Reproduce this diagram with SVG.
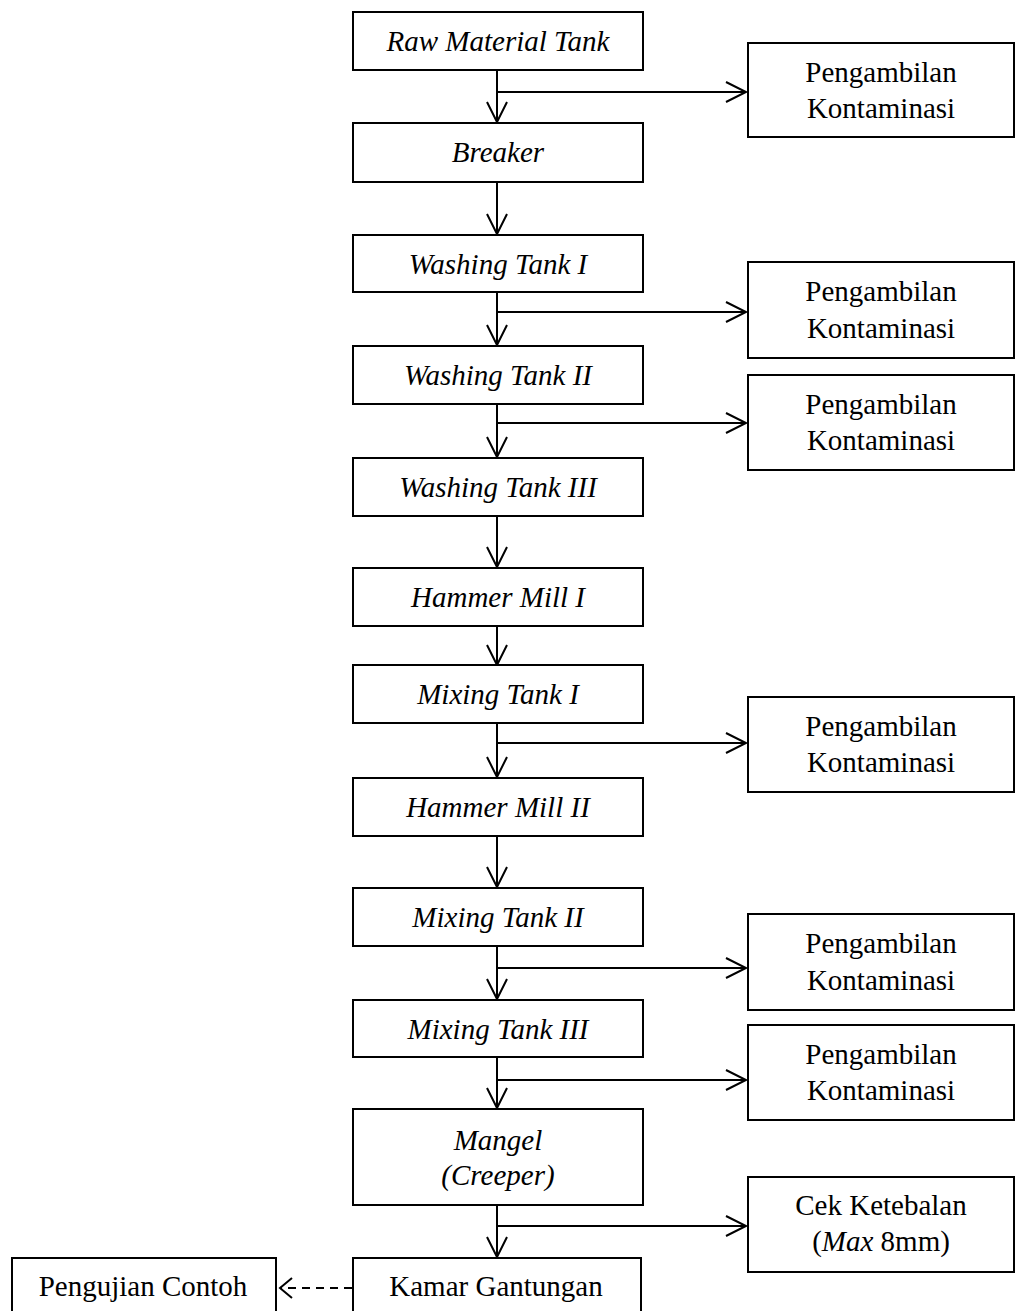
<svg xmlns="http://www.w3.org/2000/svg" width="1016" height="1311" viewBox="0 0 1016 1311">
<style>
.box{fill:#fff;stroke:#000;stroke-width:2}
.t{font-family:"Liberation Serif","Times New Roman",serif;font-size:29px;fill:#000;text-anchor:middle}
.i{font-style:italic}
.ln{fill:none;stroke:#000;stroke-width:2}
.dash{fill:none;stroke:#000;stroke-width:2;stroke-dasharray:8,6}
</style>
<defs>
<marker id="arr" markerWidth="24" markerHeight="24" viewBox="0 0 24 24" refX="21" refY="11" orient="auto" markerUnits="userSpaceOnUse">
<path d="M1,1 L21,11 L1,21" fill="none" stroke="#000" stroke-width="2"/>
</marker>
</defs>
<rect width="1016" height="1311" fill="#fff"/>
<g id="connectors">
<line class="ln" x1="497" y1="70" x2="497" y2="122" marker-end="url(#arr)"/>
<line class="ln" x1="497" y1="92" x2="746" y2="92" marker-end="url(#arr)"/>
<line class="ln" x1="497" y1="182" x2="497" y2="234" marker-end="url(#arr)"/>
<line class="ln" x1="497" y1="292" x2="497" y2="345" marker-end="url(#arr)"/>
<line class="ln" x1="497" y1="312" x2="746" y2="312" marker-end="url(#arr)"/>
<line class="ln" x1="497" y1="404" x2="497" y2="457" marker-end="url(#arr)"/>
<line class="ln" x1="497" y1="423" x2="746" y2="423" marker-end="url(#arr)"/>
<line class="ln" x1="497" y1="516" x2="497" y2="567" marker-end="url(#arr)"/>
<line class="ln" x1="497" y1="626" x2="497" y2="665" marker-end="url(#arr)"/>
<line class="ln" x1="497" y1="723" x2="497" y2="777" marker-end="url(#arr)"/>
<line class="ln" x1="497" y1="743" x2="746" y2="743" marker-end="url(#arr)"/>
<line class="ln" x1="497" y1="836" x2="497" y2="887" marker-end="url(#arr)"/>
<line class="ln" x1="497" y1="946" x2="497" y2="999" marker-end="url(#arr)"/>
<line class="ln" x1="497" y1="968" x2="746" y2="968" marker-end="url(#arr)"/>
<line class="ln" x1="497" y1="1057" x2="497" y2="1108" marker-end="url(#arr)"/>
<line class="ln" x1="497" y1="1080" x2="746" y2="1080" marker-end="url(#arr)"/>
<line class="ln" x1="497" y1="1205" x2="497" y2="1257" marker-end="url(#arr)"/>
<line class="ln" x1="497" y1="1226" x2="746" y2="1226" marker-end="url(#arr)"/>
<line class="dash" x1="352" y1="1288" x2="280" y2="1288"/>
<path class="ln" d="M292,1278 L280,1288 L292,1298"/>
</g>
<g id="n1"><rect class="box" x="353" y="12" width="290" height="58"/><text class="t i" x="498" y="51">Raw Material Tank</text></g>
<g id="n2"><rect class="box" x="353" y="123" width="290" height="59"/><text class="t i" x="498" y="162">Breaker</text></g>
<g id="n3"><rect class="box" x="353" y="235" width="290" height="57"/><text class="t i" x="498" y="274">Washing Tank I</text></g>
<g id="n4"><rect class="box" x="353" y="346" width="290" height="58"/><text class="t i" x="498" y="385">Washing Tank II</text></g>
<g id="n5"><rect class="box" x="353" y="458" width="290" height="58"/><text class="t i" x="498" y="497">Washing Tank III</text></g>
<g id="n6"><rect class="box" x="353" y="568" width="290" height="58"/><text class="t i" x="498" y="607">Hammer Mill I</text></g>
<g id="n7"><rect class="box" x="353" y="665" width="290" height="58"/><text class="t i" x="498" y="704">Mixing Tank I</text></g>
<g id="n8"><rect class="box" x="353" y="778" width="290" height="58"/><text class="t i" x="498" y="817">Hammer Mill II</text></g>
<g id="n9"><rect class="box" x="353" y="888" width="290" height="58"/><text class="t i" x="498" y="927">Mixing Tank II</text></g>
<g id="n10"><rect class="box" x="353" y="1000" width="290" height="57"/><text class="t i" x="498" y="1039">Mixing Tank III</text></g>
<g id="n11"><rect class="box" x="353" y="1109" width="290" height="96"/><text class="t i" x="498" y="1150">Mangel</text><text class="t i" x="498" y="1185">(Creeper)</text></g>
<g id="n12"><rect class="box" x="353" y="1258" width="288" height="60"/><text class="t" x="496" y="1296">Kamar Gantungan</text></g>
<g id="n13"><rect class="box" x="12" y="1258" width="264" height="60"/><text class="t" x="143" y="1296">Pengujian Contoh</text></g>
<g id="s1"><rect class="box" x="748" y="43" width="266" height="94"/><text class="t" x="881" y="82">Pengambilan</text><text class="t" x="881" y="118">Kontaminasi</text></g>
<g id="s2"><rect class="box" x="748" y="262" width="266" height="96"/><text class="t" x="881" y="301">Pengambilan</text><text class="t" x="881" y="338">Kontaminasi</text></g>
<g id="s3"><rect class="box" x="748" y="375" width="266" height="95"/><text class="t" x="881" y="414">Pengambilan</text><text class="t" x="881" y="450">Kontaminasi</text></g>
<g id="s4"><rect class="box" x="748" y="697" width="266" height="95"/><text class="t" x="881" y="736">Pengambilan</text><text class="t" x="881" y="772">Kontaminasi</text></g>
<g id="s5"><rect class="box" x="748" y="914" width="266" height="96"/><text class="t" x="881" y="953">Pengambilan</text><text class="t" x="881" y="990">Kontaminasi</text></g>
<g id="s6"><rect class="box" x="748" y="1025" width="266" height="95"/><text class="t" x="881" y="1064">Pengambilan</text><text class="t" x="881" y="1100">Kontaminasi</text></g>
<g id="s7"><rect class="box" x="748" y="1177" width="266" height="95"/><text class="t" x="881" y="1215">Cek Ketebalan</text><text class="t" x="881" y="1251">(<tspan class="i">Max</tspan> 8mm)</text></g>
</svg>
